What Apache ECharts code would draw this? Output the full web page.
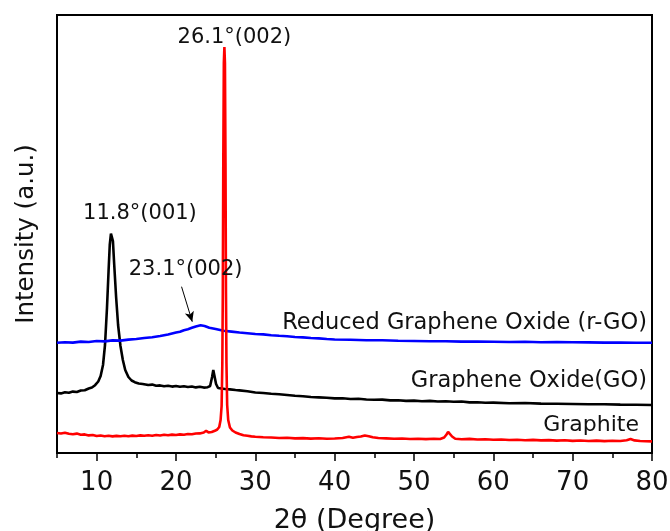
<!DOCTYPE html>
<html>
<head>
<meta charset="utf-8">
<style>
  html, body { margin: 0; padding: 0; background: #fff; }
  #chart { width: 670px; height: 531px; }
</style>
<script src="https://cdn.jsdelivr.net/npm/echarts@6/dist/echarts.min.js"></script>
</head>
<body>
<div id="chart"></div>
<script>
// XRD patterns: [2θ (degree), intensity (a.u.)]
const graphite = [
  [5,200],[5.5,195],[6,203],[6.5,192],[7,188],[7.5,194],[8,182],[8.5,186],[9,176],[9.5,180],
  [10,170],[10.5,175],[11,168],[11.5,172],[12,166],[12.5,171],[13,168],[13.5,173],[14,167],[14.5,174],
  [15,170],[15.5,176],[16,172],[16.5,178],[17,173],[17.5,180],[18,175],[18.5,182],[19,177],[19.5,184],
  [20,180],[20.5,186],[21,183],[21.5,190],[22,187],[22.5,195],[23,196],[23.5,205],[23.8,222],[24.1,206],
  [24.5,210],[24.9,222],[25.2,235],[25.45,260],[25.62,330],[25.75,470],[25.84,900],[25.9,1600],
  [25.96,2900],[26.03,3900],[26.1,4060],[26.17,3900],[26.24,2900],[26.3,1600],[26.36,900],[26.45,480],
  [26.58,330],[26.8,255],[27.1,225],[27.5,205],[28,190],[28.5,178],
  [29,172],[29.5,166],[30,162],[31,158],[32,155],[33,150],[34,152],[35,146],[36,149],[37,144],[38,147],
  [39,142],[40,145],[41,150],[41.8,162],[42.3,152],[42.8,160],[43.3,165],[43.8,175],[44.3,168],[44.8,158],
  [45.5,150],[46.5,146],[47.5,142],[48.5,145],[49.5,140],[50.5,143],[51.5,139],[52.5,142],[53.3,140],
  [53.8,155],[54.1,185],[54.3,212],[54.5,195],[54.8,165],[55.2,143],[56,138],[57,141],[58,135],[59,138],
  [60,132],[61,135],[62,130],[63,133],[64,128],[65,131],[66,126],[67,129],[68,124],[69,127],[70,121],
  [71,125],[72,120],[73,124],[74,119],[75,123],[76,120],[76.8,128],[77.3,140],[77.8,126],[78.5,120],
  [79.2,117],[80,116]
];

const grapheneOxide = [
  [5,600],[5.5,596],[6,607],[6.5,602],[7,614],[7.5,610],[8,625],[8.5,628],[9,645],[9.4,655],[9.8,678],
  [10.2,715],[10.5,770],[10.8,880],[11.05,1080],[11.3,1450],[11.5,1820],[11.65,2080],[11.8,2193],
  [11.95,2150],[12.05,2120],[12.2,1900],[12.45,1560],[12.7,1280],[13.0,1070],[13.3,930],[13.6,830],
  [14.0,760],[14.4,725],[14.8,708],[15.3,695],[15.8,690],[16.5,680],[17,684],[17.5,672],[18,676],
  [18.5,668],[19,672],[19.5,664],[20,670],[20.5,662],[21,667],[21.5,660],[22,665],[22.5,656],[23,662],
  [23.5,654],[24,658],[24.3,670],[24.55,760],[24.7,830],[24.85,770],[25.05,690],[25.3,650],[25.7,645],
  [26.2,640],[26.8,636],[27.5,630],[28,626],[29,618],[30,605],[31,600],[32,592],[33,588],[34,580],
  [35,572],[36,568],[37,560],[38,556],[39,552],[40,546],[41,548],[42,540],[43,542],[44,535],[45,532],
  [46,534],[47,526],[48,528],[49,521],[50,524],[51,518],[52,521],[53,515],[54,518],[55,512],[56,515],
  [57,506],[58,508],[59,502],[60,504],[62,498],[64,500],[66,494],[68,492],[70,490],[72,487],[74,488],
  [76,484],[78,483],[80,480]
];

const reducedGO = [
  [5,1103],[6,1108],[7,1104],[8,1114],[9,1110],[10,1120],[11,1116],[12,1126],[13,1124],[14,1134],
  [15,1140],[16,1150],[17,1158],[18,1170],[19,1185],[20,1205],[20.5,1213],[21,1228],[21.5,1238],
  [22,1252],[22.5,1266],[23.1,1277],[23.6,1270],[24.2,1253],[25,1240],[26,1222],[27,1214],[28,1205],
  [29,1198],[30,1190],[31,1186],[32,1178],[33,1172],[34,1168],[35,1160],[36,1156],[37,1150],[38,1146],
  [39,1140],[40,1135],[42,1132],[44,1128],[46,1127],[48,1122],[50,1120],[52,1118],[54,1118],[56,1114],
  [58,1115],[60,1113],[62,1110],[64,1112],[66,1108],[68,1109],[70,1107],[72,1106],[74,1104],[76,1105],
  [78,1103],[80,1103]
];

// Tick positions and labels on the 2θ axis
const majorTicks = [10, 20, 30, 40, 50, 60, 70, 80];
const minorTicks = [5, 15, 25, 35, 45, 55, 65, 75];

// Peak annotations: [2θ, intensity, text]
const graphitePeak = [26.1, 4060, '26.1°(002)'];
const goPeak = [11.8, 2193, '11.8°(001)'];
const rgoPeak = [23.1, 1277, '23.1°(002)'];

const sampleNames = ['Reduced Graphene Oxide (r-GO)', 'Graphene Oxide(GO)', 'Graphite'];

const FONT = 'DejaVu Sans';
const chart = echarts.init(document.getElementById('chart'), null, { renderer: 'canvas' });

function peakMark(peak, offset) {
  return {
    symbol: 'circle',
    symbolSize: 0,
    silent: true,
    data: [{
      coord: [peak[0], peak[1]],
      label: {
        show: true,
        position: 'inside',
        offset: offset,
        formatter: peak[2],
        fontFamily: FONT,
        fontSize: 21,
        color: '#111'
      }
    }]
  };
}

const option = {
  animation: false,
  backgroundColor: '#fff',
  grid: {
    left: 57, top: 15, right: 18, bottom: 78,
    outerBoundsMode: 'none', containLabel: false,
    show: true, borderColor: '#000', borderWidth: 2, backgroundColor: 'transparent'
  },
  xAxis: [
    {
      type: 'value', min: 5, max: 80,
      name: '2θ (Degree)', nameLocation: 'middle', nameGap: 54,
      nameTextStyle: { fontFamily: FONT, fontSize: 27, color: '#111' },
      axisLine: { show: true, lineStyle: { color: '#000', width: 2 } },
      axisTick: { show: true, customValues: majorTicks, length: 8, inside: false, lineStyle: { color: '#000', width: 1.5 } },
      axisLabel: { customValues: majorTicks, margin: 17, fontFamily: FONT, fontSize: 26, color: '#111' },
      splitLine: { show: false }
    },
    {
      type: 'value', min: 5, max: 80, position: 'bottom',
      axisLine: { show: false },
      axisTick: { show: true, customValues: minorTicks, length: 5, inside: false, lineStyle: { color: '#000', width: 1.5 } },
      axisLabel: { show: false },
      splitLine: { show: false }
    }
  ],
  yAxis: {
    type: 'value', min: 0, max: 4380,
    name: 'Intensity (a.u.)', nameLocation: 'middle', nameGap: 18,
    nameTextStyle: { fontFamily: FONT, fontSize: 24.5, color: '#111' },
    axisLine: { show: true, lineStyle: { color: '#000', width: 2 } },
    axisTick: { show: false },
    axisLabel: { show: false },
    splitLine: { show: false }
  },
  series: [
    {
      name: 'Graphite', type: 'line', data: graphite, showSymbol: false,
      lineStyle: { color: '#ff0000', width: 2.6 }, z: 3,
      markPoint: peakMark(graphitePeak, [10, -9])
    },
    {
      name: 'Graphene Oxide(GO)', type: 'line', data: grapheneOxide, showSymbol: false,
      lineStyle: { color: '#000000', width: 2.6 }, z: 2,
      markPoint: peakMark(goPeak, [29, -20])
    },
    {
      name: 'Reduced Graphene Oxide (r-GO)', type: 'line', data: reducedGO, showSymbol: false,
      lineStyle: { color: '#0000ff', width: 2.6 }, z: 2,
      markPoint: peakMark(rgoPeak, [-15, -56]),
      markLine: {
        silent: true,
        symbol: ['none', 'arrow'],
        symbolSize: [7, 10],
        label: { show: false },
        lineStyle: { color: '#000', width: 1, type: 'solid' },
        data: [[{ coord: [20.7, 1663] }, { coord: [22.05, 1313] }]]
      }
    }
  ],
  graphic: [
    { type: 'text', right: 23, top: 312, style: { text: sampleNames[0], font: '22.5px "DejaVu Sans"', fill: '#111' } },
    { type: 'text', right: 23, top: 370, style: { text: sampleNames[1], font: '22.5px "DejaVu Sans"', fill: '#111' } },
    { type: 'text', right: 31, top: 414, style: { text: sampleNames[2], font: '22px "DejaVu Sans"', fill: '#111' } }
  ]
};

chart.setOption(option);
</script>
</body>
</html>
